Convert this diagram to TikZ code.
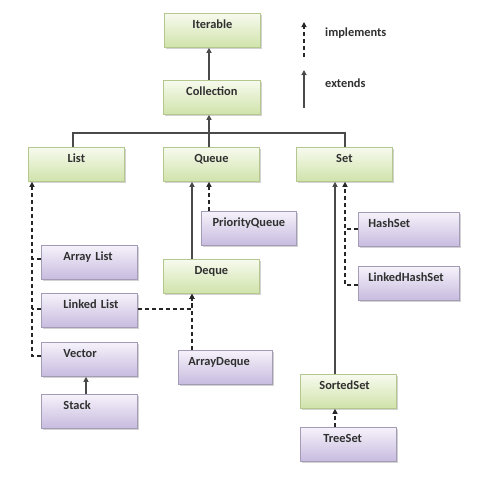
\documentclass[tikz,border=0pt]{standalone}
\usepackage{fontspec}
\setmainfont{Carlito}
\usetikzlibrary{arrows.meta,calc,shadows}
\definecolor{txt}{HTML}{303030}
\definecolor{gtop}{HTML}{F7FAEE}
\definecolor{gbot}{HTML}{D0E3AA}
\definecolor{gbrd}{HTML}{B3C78E}
\definecolor{ptop}{HTML}{F6F2FA}
\definecolor{pbot}{HTML}{C7BBDF}
\definecolor{pbrd}{HTML}{A49CB6}
\definecolor{lin}{HTML}{4A4A4A}
\tikzset{
  box/.style={draw, anchor=north west, inner sep=0pt, text height=15pt, text depth=19pt,
    font=\bfseries\fontsize{12.4}{14}\selectfont, text=txt, line width=0.8pt,
    drop shadow={shadow xshift=1.2pt, shadow yshift=-1.2pt, opacity=.35, fill=gray}},
  ibox/.style={box, top color=gtop, bottom color=gbot, draw=gbrd},
  cbox/.style={box, top color=ptop, bottom color=pbot, draw=pbrd},
  wid/.style={minimum width=#1pt},
  lft/.style 2 args={text width=#1pt, align=left, inner xsep=0pt, execute at begin node={\hspace*{#2pt}}},
  ext/.style={draw=lin, line width=1.2pt, -{Triangle[width=5pt,length=5pt]}},
  impl/.style={draw=black!85, line width=1.2pt, dash pattern=on 4pt off 3pt, -{Triangle[width=5pt,length=5pt]}},
  dline/.style={draw=black!85, line width=1.2pt, dash pattern=on 4pt off 3pt},
  sline/.style={draw=lin, line width=1.2pt},
  legend/.style={anchor=west, inner sep=0pt, font=\bfseries\fontsize{12.4}{14}\selectfont, text=txt}
}
\begin{document}
\begin{tikzpicture}[x=1pt,y=-1pt]
\useasboundingbox[fill=white] (0,0) rectangle (504,480);
% interfaces
\node[ibox, wid=96] (iter) at (164,13) {Iterable};
\node[ibox, wid=97] (coll) at (163,80) {Collection};
\node[ibox, wid=96] (list) at (28,147) {List};
\node[ibox, wid=96] (queue) at (163,147) {Queue};
\node[ibox, wid=96] (set) at (296,147) {Set};
\node[ibox, wid=96] (deque) at (163,259) {Deque};
\node[ibox, lft={96}{19}] (ss) at (300,374) {SortedSet};
% classes
\node[cbox, wid=95] (pq) at (201,211) {PriorityQueue};
\node[cbox, lft={101}{10}] (hs) at (358,212) {HashSet};
\node[cbox, lft={101}{10}] (lhs) at (358,266) {LinkedHashSet};
\node[cbox, lft={96}{22}] (al) at (41,245) {Array List};
\node[cbox, lft={96}{22}] (ll) at (41,293) {Linked List};
\node[cbox, lft={96}{22}] (vec) at (41,342) {Vector};
\node[cbox, lft={96}{22}] (stack) at (41,394) {Stack};
\node[cbox, lft={94}{10}] (ad) at (178,350) {ArrayDeque};
\node[cbox, lft={96}{23}] (ts) at (300,427) {TreeSet};
% Collection -> Iterable
\draw[ext] ($(coll.north west)+(46,0)$) -- ($(iter.south west)+(45,0)$);
% bus
\draw[sline] ($(list.north west)+(45,0)$) -- ++(0,-14) -| ($(set.north west)+(49,0)$);
\draw[ext] ($(queue.north west)+(46,0)$) -- ($(coll.south west)+(46,0)$);
% List implementations
\draw[impl] ($(vec.north west)+(0,14)$) -| ($(list.south west)+(4,0)$);
\draw[dline] ($(al.north west)+(0,14)$) -- ++(-9,0);
\draw[dline] ($(ll.north west)+(0,16)$) -- ++(-9,0);
\draw[ext] ($(stack.north west)+(45,0)$) -- ($(vec.south west)+(45,0)$);
% Queue
\draw[ext] ($(deque.north west)+(29,0)$) -- ($(queue.south west)+(29,0)$);
\draw[impl] ($(pq.north west)+(8,0)$) -- ($(queue.south west)+(46,0)$);
\draw[impl] ($(ll.north east)+(0,16)$) -| ($(deque.south west)+(29,0)$);
\draw[impl] ($(ad.north west)+(14,0)$) -- ($(deque.south west)+(29,0)$);
% Set
\draw[ext] ($(ss.north west)+(35,0)$) -- ($(set.south west)+(39,0)$);
\draw[impl] ($(lhs.north west)+(0,19)$) -| ($(set.south west)+(49,0)$);
\draw[dline] ($(hs.north west)+(0,17)$) -- ++(-13,0);
\draw[impl] ($(ts.north west)+(35,0)$) -- ($(ss.south west)+(35,0)$);
% legend
\coordinate (l1a) at (304,57);
\coordinate (l1b) at (304,22);
\coordinate (l2a) at (304,108);
\coordinate (l2b) at (304,70);
\draw[impl] (l1a) -- (l1b);
\draw[ext] (l2a) -- (l2b);
\node[legend] (limpl) at (325,33) {implements};
\node[legend] (lext) at (325,83) {extends};
\end{tikzpicture}
\end{document}
